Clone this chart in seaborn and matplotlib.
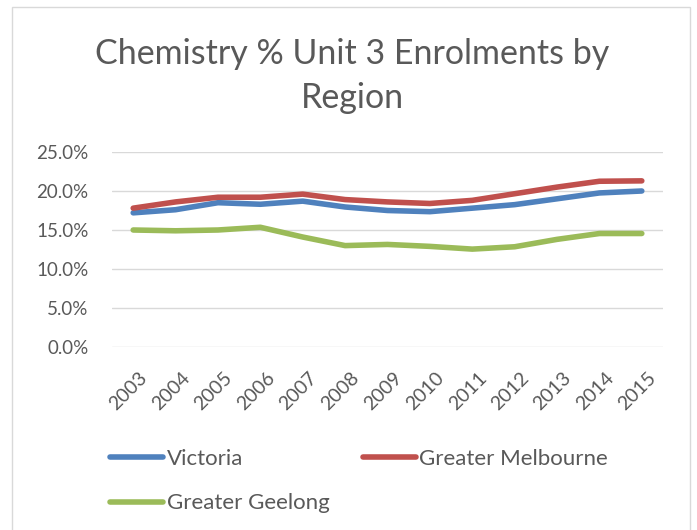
import pandas as pd
import matplotlib
matplotlib.use('Agg')
from matplotlib import pyplot as plt
from matplotlib.patches import Rectangle
import matplotlib.transforms as mtransforms
import seaborn as sns

# Data (% of Unit 3 enrolments)
years = [2003, 2004, 2005, 2006, 2007, 2008, 2009, 2010, 2011, 2012, 2013, 2014, 2015]
victoria = [17.2, 17.6, 18.5, 18.3, 18.7, 17.95, 17.5, 17.35, 17.8, 18.25, 19.0, 19.75, 20.0]
melbourne = [17.8, 18.6, 19.2, 19.2, 19.6, 18.9, 18.6, 18.4, 18.8, 19.65, 20.5, 21.25, 21.3]
geelong = [15.0, 14.9, 15.0, 15.35, 14.1, 13.0, 13.15, 12.9, 12.55, 12.85, 13.8, 14.55, 14.55]
regions = ['Victoria', 'Greater Melbourne', 'Greater Geelong']
colors = ['#4F81BD', '#C0504D', '#9BBB59']

# Long-form dataframe for seaborn
df = pd.DataFrame({
    'Year': years * 3,
    'Share': [v / 100 for v in victoria + melbourne + geelong],
    'Region': [r for r in regions for _ in years],
})

sns.set_style('white')
plt.rcParams['font.family'] = ['Lato', 'DejaVu Sans']
text_color = '#595959'

fig = plt.figure(figsize=(6.97, 5.3), dpi=100)
ax = fig.add_axes([112 / 697, 1 - 347 / 530, 551 / 697, 195 / 530])

sns.lineplot(data=df, x='Year', y='Share', hue='Region', hue_order=regions,
             palette=colors, linewidth=4.0, ax=ax, legend=False)
for line in ax.lines:
    line.set_solid_capstyle('round')

# Axes styling, Excel look
ax.set_xlim(years[0] - 0.5, years[-1] + 0.5)
ax.set_ylim(0, 0.25)
ax.set_yticks([0, 0.05, 0.10, 0.15, 0.20, 0.25])
ax.set_yticklabels(['0.0%', '5.0%', '10.0%', '15.0%', '20.0%', '25.0%'])
ax.set_xticks(years)
ax.set_xticklabels([str(y) for y in years], rotation=45, ha='right',
                   rotation_mode='anchor')
ax.yaxis.grid(True, color='#D9D9D9', linewidth=1.0)
ax.set_axisbelow(True)
for s in ax.spines.values():
    s.set_visible(False)
ax.tick_params(axis='y', length=0, pad=17, labelsize=13.5, labelcolor=text_color)
ax.tick_params(axis='x', length=0, pad=16, labelsize=14, labelcolor=text_color)
shift = mtransforms.ScaledTranslation(4 / 72, 0, fig.dpi_scale_trans)
for lab in ax.get_xticklabels():
    lab.set_transform(lab.get_transform() + shift)
ax.set_xlabel('')
ax.set_ylabel('')

# Title
fig.text(0.505, 1 - 76 / 530, 'Chemistry % Unit 3 Enrolments by\nRegion',
         ha='center', va='center', fontsize=24.5, color=text_color,
         linespacing=1.5)

# Legend: Victoria / Greater Geelong in first column, Melbourne in second
handles = [plt.Line2D([], [], color=c, linewidth=4.0, solid_capstyle='round') for c in colors]
order = [0, 2, 1]
fig.legend([handles[i] for i in order], [regions[i] for i in order],
           loc='upper left', bbox_to_anchor=(90 / 697, 1 - 429 / 530),
           ncol=2, frameon=False, fontsize=16, labelcolor=text_color,
           handlelength=2.4, handletextpad=0.15, columnspacing=1.5,
           labelspacing=1.1)

# Chart border
fig.patches.append(Rectangle((12 / 697, -0.02), 678 / 697, 1.02 - 7 / 530,
                             transform=fig.transFigure, fill=False,
                             edgecolor='#D9D9D9', linewidth=1.0))

fig.savefig('out.png', dpi=100)
